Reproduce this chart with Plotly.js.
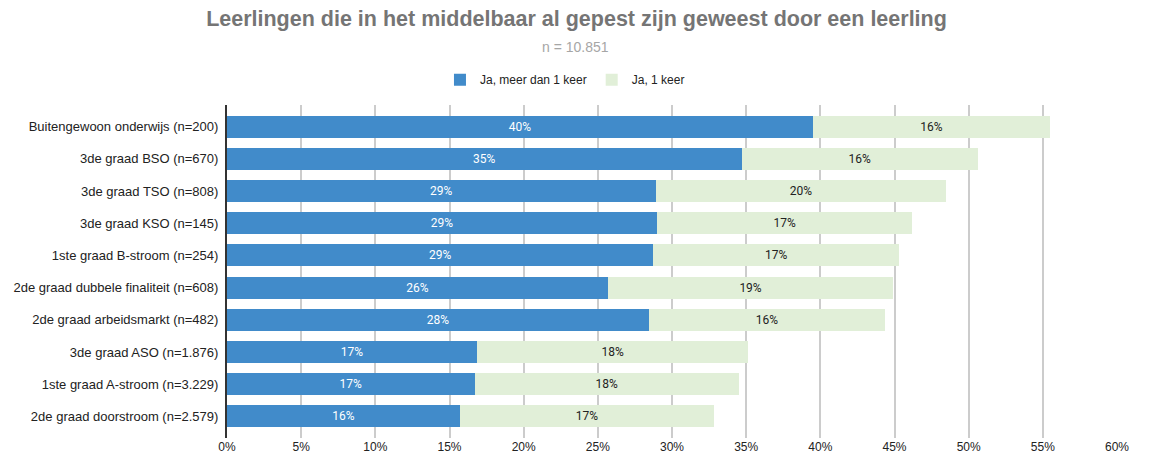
<!DOCTYPE html>
<html>
<head>
<meta charset="utf-8">
<script src="https://cdn.plot.ly/plotly-3.0.1.min.js"></script>
<style>html,body{margin:0;padding:0;background:#fff;}#chart{width:1153px;height:456px;}</style>
</head>
<body>
<div id="chart"></div>
<script>
const categories = [
  "Buitengewoon onderwijs (n=200)",
  "3de graad BSO (n=670)",
  "3de graad TSO (n=808)",
  "3de graad KSO (n=145)",
  "1ste graad B-stroom (n=254)",
  "2de graad dubbele finaliteit (n=608)",
  "2de graad arbeidsmarkt (n=482)",
  "3de graad ASO (n=1.876)",
  "1ste graad A-stroom (n=3.229)",
  "2de graad doorstroom (n=2.579)"
];
const meerDan1Keer = [39.5, 34.7, 28.9, 29.0, 28.75, 25.7, 28.45, 16.85, 16.7, 15.7];
const eenKeer = [16.0, 15.9, 19.6, 17.2, 16.55, 19.2, 15.9, 18.3, 17.8, 17.15];
const seriesNames = ["Ja, meer dan 1 keer", "Ja, 1 keer"];
const xTicks = [0, 5, 10, 15, 20, 25, 30, 35, 40, 45, 50, 55, 60];

const labelText = arr => arr.map(v => Math.round(v) + "%");

const traces = [
  {
    type: "bar", orientation: "h", name: seriesNames[0],
    y: categories, x: meerDan1Keer,
    marker: {color: "#418bca"},
    text: labelText(meerDan1Keer), textposition: "inside", insidetextanchor: "middle",
    textfont: {color: "#ffffff", size: 12, family: "Roboto, Arial, sans-serif"},
    constraintext: "none", hoverinfo: "x+y"
  },
  {
    type: "bar", orientation: "h", name: seriesNames[1],
    y: categories, x: eenKeer,
    marker: {color: "#e1efd8"},
    text: labelText(eenKeer), textposition: "inside", insidetextanchor: "middle",
    textfont: {color: "#222222", size: 12, family: "Roboto, Arial, sans-serif"},
    constraintext: "none", hoverinfo: "x+y"
  }
];

const layout = {
  width: 1153, height: 456,
  paper_bgcolor: "#ffffff", plot_bgcolor: "#ffffff",
  font: {family: "Arial, 'Liberation Sans', sans-serif", color: "#222222", size: 12},
  margin: {l: 227, r: 36, t: 105, b: 18, pad: 0},
  barmode: "stack", bargap: 0.32,
  title: {
    text: "<b>Leerlingen die in het middelbaar al gepest zijn geweest door een leerling</b>",
    font: {size: 21.5, color: "#757575", family: "Arial, 'Liberation Sans', sans-serif"},
    x: 0.5, xanchor: "center", xref: "container", y: 0.96, yanchor: "middle", yref: "container"
  },
  annotations: [{
    text: "n = 10.851", showarrow: false,
    xref: "paper", yref: "paper", x: 0.392, y: 1, yshift: 58, xanchor: "center", yanchor: "middle",
    font: {size: 14, color: "#a6a6a6"}
  }],
  showlegend: true,
  legend: {
    orientation: "h", x: 0.49, xref: "container", xanchor: "center",
    y: 0.825, yref: "container", yanchor: "middle",
    font: {size: 12, color: "#222222"}, itemwidth: 30, traceorder: "normal"
  },
  xaxis: {
    range: [0, 60], tickvals: xTicks, ticktext: xTicks.map(v => v + "%"),
    showgrid: true, gridcolor: "#cccccc", gridwidth: 2,
    zeroline: false, showline: false, ticks: "",
    tickfont: {size: 12, color: "#222222"}, automargin: false
  },
  yaxis: {
    type: "category", categoryorder: "array", categoryarray: categories,
    range: [9.67, -0.67],
    showgrid: false, zeroline: false,
    showline: true, linecolor: "#333333", linewidth: 2,
    ticks: "", ticklabelstandoff: 4,
    tickfont: {size: 13, color: "#222222"}, automargin: false
  }
};

Plotly.newPlot("chart", traces, layout, {displayModeBar: false, staticPlot: true});
</script>
</body>
</html>
